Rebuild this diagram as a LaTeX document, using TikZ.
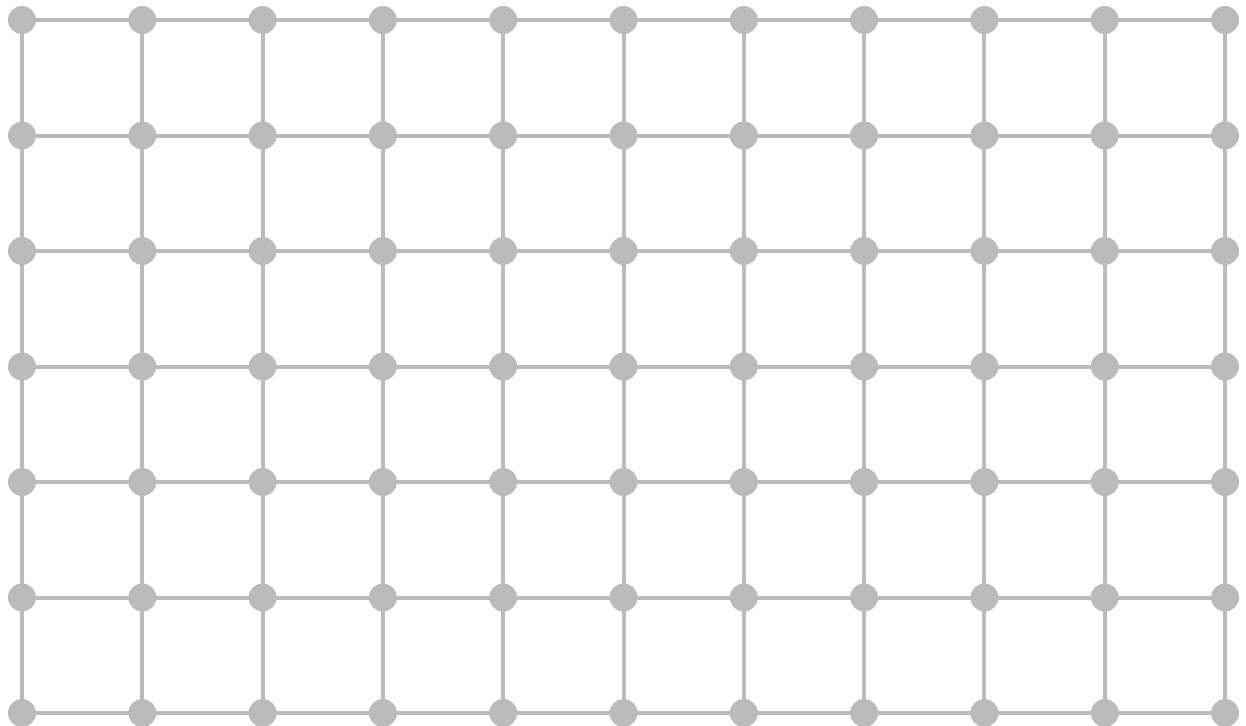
\documentclass[tikz,border=0pt]{standalone}
\usepackage{xcolor}
\usepackage{tikz}
\usetikzlibrary{positioning}
\definecolor{meshgray}{RGB}{187,187,187}

\begin{document}
\begin{tikzpicture}[x=1pt, y=-1pt, line width=4pt, meshgray]
		\tikzstyle{vertex}=[circle, fill=meshgray, inner sep=0pt, minimum width=28pt, minimum height=27pt]
		\tikzstyle{link}=[draw=meshgray, line width=4pt]

		\useasboundingbox (0,0) rectangle (1246,725);

		% vertices of the mesh
		\foreach \i in {0,...,10}
			\foreach \j in {0,...,6}
				\node[vertex] (V\i-\j) at ({22+120.3*\i}, {20+115.5*\j}) {};

		% vertical links
		\foreach \i in {0,...,10}
			\foreach \j [count=\k from 1] in {0,...,5}
				\draw[link] (V\i-\j.center) -- (V\i-\k.center);

		% horizontal links
		\foreach \j in {0,...,6}
			\foreach \i [count=\k from 1] in {0,...,9}
				\draw[link] (V\i-\j.center) -- (V\k-\j.center);
	\end{tikzpicture}
\end{document}
